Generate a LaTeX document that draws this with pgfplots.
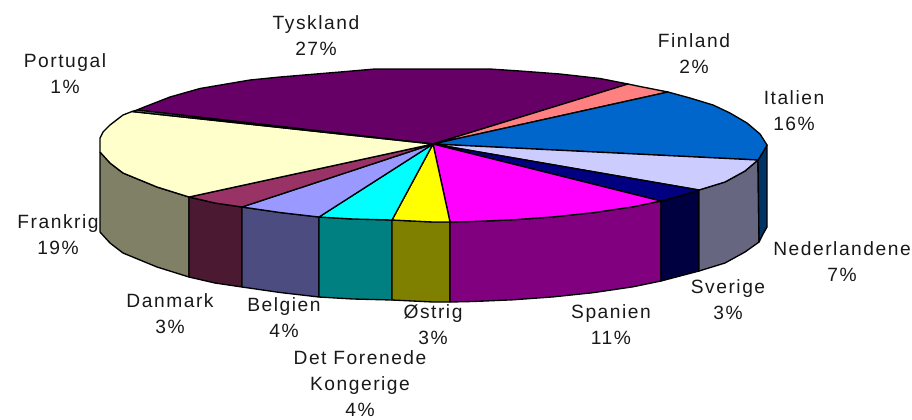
\documentclass[border=0pt]{standalone}
\usepackage{pgfplots}
\pgfplotsset{compat=1.18}
\usepackage{fontspec}
\setmainfont{Liberation Sans}
\newfontfamily\lblfont[LetterSpace=8]{Liberation Sans}

% top faces
\definecolor{tysk}{HTML}{660066}
\definecolor{finl}{HTML}{FF8080}
\definecolor{ital}{HTML}{0066CC}
\definecolor{nede}{HTML}{CCCCFF}
\definecolor{sver}{HTML}{000080}
\definecolor{span}{HTML}{FF00FF}
\definecolor{oest}{HTML}{FFFF00}
\definecolor{ukgb}{HTML}{00FFFF}
\definecolor{belg}{HTML}{9999FF}
\definecolor{danm}{HTML}{993366}
\definecolor{fran}{HTML}{FFFFCC}
\definecolor{port}{HTML}{669999}
% side walls
\definecolor{italw}{HTML}{003366}
\definecolor{nedew}{HTML}{666680}
\definecolor{sverw}{HTML}{000040}
\definecolor{spanw}{HTML}{800080}
\definecolor{oestw}{HTML}{808000}
\definecolor{ukgbw}{HTML}{008080}
\definecolor{belgw}{HTML}{4C4C80}
\definecolor{danmw}{HTML}{4C1933}
\definecolor{franw}{HTML}{808066}

\tikzset{lbl/.style={font=\fontsize{14.4}{19.5}\selectfont\lblfont, align=center, text=black!90, anchor=center, inner sep=0pt}}

\begin{document}
\begin{tikzpicture}
\begin{axis}[
    scale only axis,
    width=684pt,
    height=314.25pt,
    xmin=0, xmax=912,
    ymin=0, ymax=419,
    y dir=reverse,
    hide axis,
    clip=false,
    every axis plot/.append style={draw=black, line width=1pt, line join=round, mark=none}
]
% page corners, keep the picture at full size
\addplot[draw=none] coordinates {(0,0) (912,419)};

% walls
\addplot[fill=franw] coordinates {(100,152) (110,163) (123,173) (157,187) (189,197) (189,277) (157,267) (123,253) (110,243) (100,232) (100,152)};
\addplot[fill=danmw] coordinates {(189,197) (215,203) (242,207) (242,287) (215,283) (189,277) (189,197)};
\addplot[fill=belgw] coordinates {(242,207) (280,212.5) (319,217) (319,297) (280,292.5) (242,287) (242,207)};
\addplot[fill=ukgbw] coordinates {(319,217) (353,219) (392,220) (392,300) (353,299) (319,297) (319,217)};
\addplot[fill=oestw] coordinates {(392,220) (433,222) (450,222) (450,302) (433,302) (392,300) (392,220)};
\addplot[fill=spanw] coordinates {(450,222) (473,221.5) (513,219.8) (553,216.9) (593,212.7) (633,206.8) (661,201) (661,281) (633,286.8) (593,292.7) (553,296.9) (513,299.8) (473,301.5) (450,302) (450,222)};
\addplot[fill=sverw] coordinates {(661,201) (680,196) (699,190) (699,271) (680,276) (661,281) (661,201)};
\addplot[fill=nedew] coordinates {(699,190) (725,182) (745,171) (758,160) (759,242) (745,252) (725,263) (699,271) (699,190)};
\addplot[fill=italw] coordinates {(758,160) (763,152) (767,145) (767,227) (763,234) (759,242) (758,160)};

% top slices
\addplot[fill=tysk] coordinates {(433,144) (137,110) (143,107.5) (170,97) (200,88.5) (250,80) (280,77) (340,72) (375,69) (490,69) (520,71) (560,74) (600,78.5) (628,84) (433,144)};
\addplot[fill=finl] coordinates {(433,144) (628,84) (640,86.5) (668,92) (433,144)};
\addplot[fill=ital] coordinates {(433,144) (668,92) (690,98) (713,105) (730,113) (747,123) (760,134) (767,145) (763,152) (758,160) (433,144)};
\addplot[fill=nede] coordinates {(433,144) (758,160) (745,171) (725,182) (699,190) (433,144)};
\addplot[fill=sver] coordinates {(433,144) (699,190) (680,196) (661,201) (433,144)};
\addplot[fill=span] coordinates {(433,144) (661,201) (633,206.8) (593,212.7) (553,216.9) (513,219.8) (473,221.5) (450,222) (433,144)};
\addplot[fill=oest] coordinates {(433,144) (450,222) (433,222) (392,220) (433,144)};
\addplot[fill=ukgb] coordinates {(433,144) (392,220) (353,219) (319,217) (433,144)};
\addplot[fill=belg] coordinates {(433,144) (319,217) (280,212.5) (242,207) (433,144)};
\addplot[fill=danm] coordinates {(433,144) (242,207) (215,203) (189,197) (433,144)};
\addplot[fill=fran] coordinates {(433,144) (189,197) (157,187) (123,173) (110,163) (100,152) (100,138) (103,132) (110,125) (123,115) (132,111.5) (433,144)};
\addplot[fill=port] coordinates {(433,144) (132,111.5) (137,110) (433,144)};

% labels
\node[lbl] at (axis cs:316,36) {Tyskland\\27\%};
\node[lbl] at (axis cs:694,54) {Finland\\2\%};
\node[lbl] at (axis cs:794,111) {Italien\\16\%};
\node[lbl] at (axis cs:842,262) {Nederlandene\\7\%};
\node[lbl] at (axis cs:728,300) {Sverige\\3\%};
\node[lbl] at (axis cs:611,325) {Spanien\\11\%};
\node[lbl] at (axis cs:433,325) {Østrig\\3\%};
\node[lbl] at (axis cs:360,384) {Det Forenede\\Kongerige\\4\%};
\node[lbl] at (axis cs:284,318) {Belgien\\4\%};
\node[lbl] at (axis cs:170,314) {Danmark\\3\%};
\node[lbl] at (axis cs:58,235) {Frankrig\\19\%};
\node[lbl] at (axis cs:65,74) {Portugal\\1\%};
\end{axis}
\end{tikzpicture}
\end{document}
